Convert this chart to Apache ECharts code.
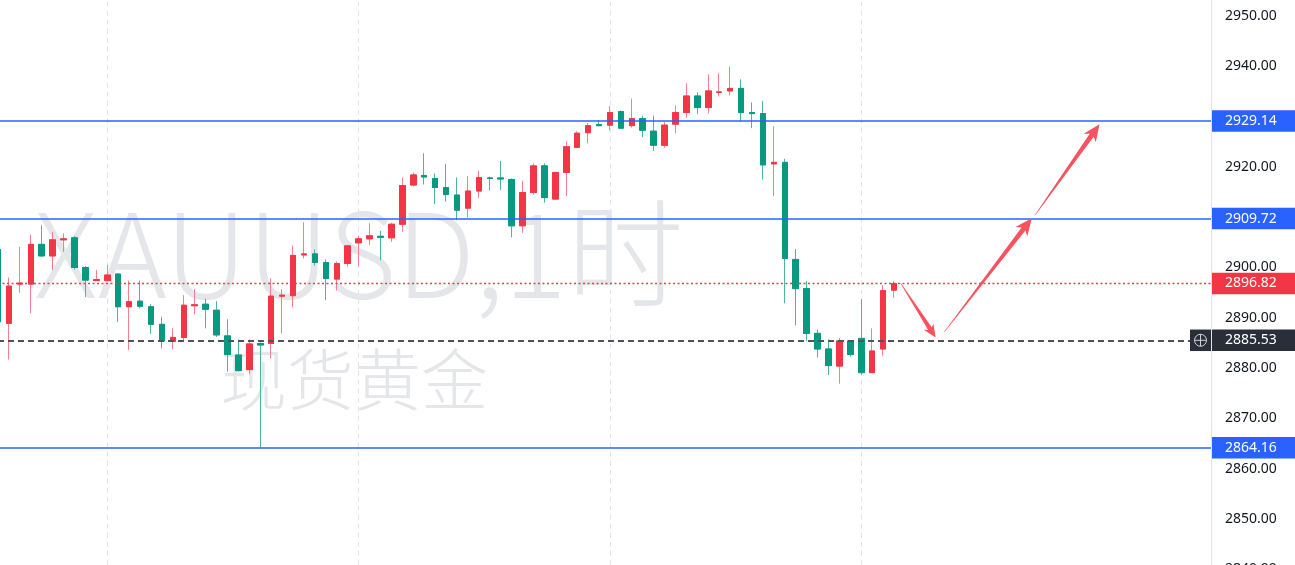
<!DOCTYPE html>
<html>
<head>
<meta charset="utf-8">
<script src="https://cdn.jsdelivr.net/npm/echarts@6/dist/echarts.min.js"></script>
<style>
html,body{margin:0;padding:0;background:#ffffff;}
#chart{width:1295px;height:565px;}
</style>
</head>
<body>
<div id="chart"></div>
<script>
// ---- Data (hourly XAUUSD candles) ----
const opens = [2903.6,2888.9,2896.7,2896.7,2904.6,2902.3,2905.5,2905.9,2900.0,2897.4,
  2897.4,2898.7,2892.2,2893.3,2892.2,2888.7,2885.3,2886.1,2892.4,2892.7,
  2891.5,2886.4,2882.6,2879.7,2884.9,2884.9,2894.3,2894.4,2902.5,2902.7,
  2901.0,2897.7,2900.8,2904.9,2905.7,2906.2,2905.9,2908.6,2916.4,2918.3,
  2917.7,2915.9,2914.4,2911.8,2915.2,2917.8,2917.8,2917.5,2908.3,2914.9,
  2920.2,2913.6,2918.9,2923.9,2926.8,2928.4,2928.3,2931.0,2928.2,2929.6,
  2927.1,2924.3,2928.5,2930.8,2934.1,2931.8,2934.8,2935.1,2935.6,2930.8,
  2930.6,2920.6,2920.9,2901.6,2895.8,2886.9,2883.8,2880.4,2885.4,2885.9,
  2879.1,2883.8,2895.5];
const highs = [2904.5,2898.0,2904.1,2906.5,2908.4,2907.1,2906.8,2906.3,2900.3,2899.5,
  2900.5,2898.8,2897.4,2897.4,2892.7,2890.2,2887.9,2894.5,2895.7,2893.8,
  2893.3,2889.7,2885.7,2885.7,2885.1,2897.8,2895.7,2904.3,2909.0,2903.6,
  2901.6,2901.2,2904.3,2906.3,2908.8,2907.3,2908.9,2917.9,2918.9,2922.7,
  2918.7,2920.6,2917.9,2918.2,2919.2,2918.1,2921.2,2917.7,2917.2,2920.7,
  2920.7,2919.0,2925.1,2927.1,2928.7,2929.3,2932.1,2931.2,2933.6,2930.2,
  2930.2,2928.9,2932.2,2936.6,2934.8,2938.4,2938.6,2939.9,2937.4,2932.8,
  2933.1,2928.1,2921.6,2903.7,2897.3,2887.7,2885.7,2886.0,2885.4,2893.7,
  2887.9,2896.5,2897.3];
const lows = [2888.5,2881.7,2895.0,2890.9,2902.2,2899.5,2903.1,2899.6,2894.1,2897.4,
  2897.3,2889.2,2883.6,2891.9,2886.8,2883.9,2883.7,2885.6,2890.7,2887.9,
  2886.2,2879.3,2879.3,2878.8,2864.2,2881.9,2886.9,2892.1,2901.8,2900.4,
  2893.5,2895.4,2900.2,2900.2,2904.5,2901.4,2905.1,2907.1,2916.1,2916.5,
  2912.6,2913.1,2909.4,2909.9,2913.8,2915.3,2915.4,2906.0,2906.9,2914.5,
  2912.9,2913.4,2914.2,2923.7,2924.7,2928.1,2927.3,2927.7,2927.8,2925.9,
  2923.2,2923.8,2926.7,2929.8,2930.5,2930.6,2934.0,2934.2,2929.0,2927.7,
  2917.5,2914.2,2892.9,2888.5,2885.4,2882.1,2878.6,2876.9,2882.3,2878.7,
  2879.1,2882.5,2894.0];
const closes = [2889.2,2896.3,2896.9,2904.6,2902.3,2905.5,2905.7,2900.0,2897.5,2897.6,
  2898.5,2892.2,2893.2,2892.3,2888.7,2885.4,2886.1,2892.5,2892.6,2891.7,
  2886.6,2882.7,2879.5,2884.8,2884.6,2894.3,2894.5,2902.4,2902.7,2901.0,
  2897.8,2900.8,2904.3,2905.7,2906.3,2906.0,2908.6,2916.3,2918.4,2918.0,
  2915.9,2914.5,2911.4,2915.2,2917.9,2917.7,2917.6,2908.3,2914.9,2920.2,
  2913.9,2918.9,2924.0,2926.7,2928.2,2928.2,2930.8,2927.7,2929.6,2927.3,
  2924.3,2928.3,2930.8,2934.1,2931.8,2935.1,2934.9,2935.6,2930.8,2930.6,
  2920.4,2920.9,2901.8,2895.8,2886.9,2883.8,2880.5,2885.4,2882.7,2879.1,
  2883.4,2895.4,2896.82];

// horizontal levels
const blueLevels = [2929.14, 2909.72, 2864.16];
const lastPrice = 2896.82;
const crossPrice = 2885.53;

// price-axis range / ticks
const yMin = 2840, yMax = 2960, yStep = 10;

// slots on the time axis (candles + empty space to the right)
const slotCount = 112;
const slots = Array.from({length: slotCount}, (_, i) => String(i));
const dayStarts = [10, 33, 56, 79];

// projected arrows: [slotIndex, price] start -> end
const arrows = [
  [[82.6, 2896.9], [85.8, 2886.1]],
  [[86.6, 2887.2], [94.6, 2909.8]],
  [[94.9, 2910.4], [100.8, 2928.5]]
];

// watermark text
const watermarkMain = 'XAUUSD,1时';
const watermarkSub = '现货黄金';

// ---- build series data ----
const ohlc = opens.map((o, i) => [o, closes[i], lows[i], highs[i]]);
const bodies = opens.map((o, i) => [o, closes[i], Math.min(o, closes[i]), Math.max(o, closes[i])]);

const UP = '#f23645', DOWN = '#089981';
const UP_WICK = '#f6808a', DOWN_WICK = '#4db5a1';
const LABEL_FONT = '"Noto Sans", "Liberation Sans", Arial, sans-serif';

const chart = echarts.init(document.getElementById('chart'), null, {renderer: 'canvas'});

const PX_PER_UNIT = 5.03, Y_2950 = 16;
const option = {
  animation: false,
  backgroundColor: '#ffffff',
  grid: {
    left: -2, right: 84,
    top: Y_2950 - (yMax - 2950) * PX_PER_UNIT,
    bottom: 565 - (Y_2950 + (2950 - yMin) * PX_PER_UNIT),
    containLabel: false,
    outerBoundsMode: 'none'
  },
  xAxis: {
    type: 'category',
    data: slots,
    boundaryGap: false,
    axisLine: {show: false},
    axisTick: {show: false},
    axisLabel: {show: false},
    splitLine: {
      show: true,
      interval: (i) => dayStarts.includes(i),
      lineStyle: {color: '#e0e3eb', width: 1, type: [5, 4]}
    }
  },
  yAxis: {
    type: 'value',
    position: 'right',
    min: yMin,
    max: yMax,
    interval: yStep,
    axisLine: {show: true, lineStyle: {color: '#e0e3eb', width: 1}},
    axisTick: {show: false},
    splitLine: {show: false},
    axisLabel: {
      color: '#131722',
      fontSize: 14,
      fontFamily: LABEL_FONT,
      margin: 14,
      formatter: (v) => v.toFixed(2)
    }
  },
  series: [
    {
      name: 'wicks',
      type: 'candlestick',
      data: ohlc,
      barWidth: 6,
      z: 2,
      itemStyle: {color: UP_WICK, color0: DOWN_WICK, borderColor: UP_WICK, borderColor0: DOWN_WICK, borderWidth: 1}
    },
    {
      name: 'bodies',
      type: 'candlestick',
      data: bodies,
      barWidth: 6,
      z: 3,
      itemStyle: {color: UP, color0: DOWN, borderColor: UP, borderColor0: DOWN, borderWidth: 1},
      markLine: {
        silent: true,
        symbol: 'none',
        z: 5,
        label: {show: false},
        data: [
          ...blueLevels.map(v => ({yAxis: v, lineStyle: {color: '#2962ff', width: 1.5, type: 'solid', opacity: 1}})),
          {yAxis: lastPrice, lineStyle: {color: '#f23645', width: 1.4, type: [2, 2.5], opacity: 1}},
          {yAxis: crossPrice, lineStyle: {color: '#50535e', width: 2, type: [6, 4], opacity: 1}}
        ]
      }
    }
  ]
};
chart.setOption(option);

// ---- overlay graphics (watermark, arrows, price badges) ----
function px(slot, price) {
  const x0 = chart.convertToPixel({xAxisIndex: 0}, '0');
  const x1 = chart.convertToPixel({xAxisIndex: 0}, '1');
  const y = chart.convertToPixel({yAxisIndex: 0}, price);
  return [x0 + (x1 - x0) * slot, y];
}

function arrowPolygon(s, t) {
  const dx = t[0] - s[0], dy = t[1] - s[1];
  const len = Math.hypot(dx, dy);
  const ux = dx / len, uy = dy / len;
  const nx = -uy, ny = ux;
  const h = Math.min(17, len * 0.2);
  const hw = h * 0.44;
  const bx = t[0] - ux * h, by = t[1] - uy * h;
  const bx2 = t[0] - ux * (h * 0.8), by2 = t[1] - uy * (h * 0.8);
  const sw = Math.min(2.4, h * 0.17);
  return [
    [s[0] + nx * 0.3, s[1] + ny * 0.3],
    [bx2 + nx * sw, by2 + ny * sw],
    [bx + nx * hw, by + ny * hw],
    [t[0], t[1]],
    [bx - nx * hw, by - ny * hw],
    [bx2 - nx * sw, by2 - ny * sw],
    [s[0] - nx * 0.3, s[1] - ny * 0.3]
  ];
}

const graphics = [];

graphics.push({
  type: 'text', z: -1, silent: true,
  style: {
    text: watermarkMain, x: 34, y: 254,
    fill: '#e5e6ea', fontSize: 117, fontWeight: 300,
    fontFamily: '"Noto Sans CJK SC", sans-serif',
    verticalAlign: 'middle', align: 'left'
  }
});
graphics.push({
  type: 'text', z: -1, silent: true,
  style: {
    text: watermarkSub, x: 220, y: 380,
    fill: '#e5e6ea', fontSize: 67, fontWeight: 300,
    fontFamily: '"Noto Sans CJK SC", sans-serif',
    verticalAlign: 'middle', align: 'left'
  }
});

arrows.forEach(a => {
  const s = px(a[0][0], a[0][1]);
  const t = px(a[1][0], a[1][1]);
  graphics.push({
    type: 'polygon', z: 60, silent: true,
    shape: {points: arrowPolygon(s, t)},
    style: {fill: '#f7525f', stroke: null}
  });
});

const axisX = 1212, badgeW = 1295 - 1212, badgeH = 21.5;
function badge(value, color) {
  const y = chart.convertToPixel({yAxisIndex: 0}, value);
  graphics.push({
    type: 'rect', z: 100, silent: true,
    shape: {x: axisX, y: y - badgeH / 2, width: badgeW, height: badgeH},
    style: {fill: color}
  });
  graphics.push({
    type: 'text', z: 101, silent: true,
    style: {
      text: value.toFixed(2), x: 1225, y: y,
      fill: '#ffffff', fontSize: 14, fontFamily: LABEL_FONT,
      verticalAlign: 'middle', align: 'left'
    }
  });
}
blueLevels.forEach(v => badge(v, '#2962ff'));
badge(lastPrice, '#f23645');
badge(crossPrice, '#2a2e39');

// crosshair icon box next to the dark badge
(function () {
  const y = chart.convertToPixel({yAxisIndex: 0}, crossPrice);
  graphics.push({
    type: 'rect', z: 100, silent: true,
    shape: {x: 1190, y: y - badgeH / 2, width: 21, height: badgeH},
    style: {fill: '#2a2e39'}
  });
  graphics.push({
    type: 'circle', z: 101, silent: true,
    shape: {cx: 1200.5, cy: y, r: 6},
    style: {fill: null, stroke: '#d1d4dc', lineWidth: 1}
  });
  graphics.push({
    type: 'line', z: 101, silent: true,
    shape: {x1: 1194.5, y1: y, x2: 1206.5, y2: y},
    style: {stroke: '#d1d4dc', lineWidth: 1}
  });
  graphics.push({
    type: 'line', z: 101, silent: true,
    shape: {x1: 1200.5, y1: y - 6, x2: 1200.5, y2: y + 6},
    style: {stroke: '#d1d4dc', lineWidth: 1}
  });
})();

chart.setOption({graphic: graphics});
</script>
</body>
</html>
